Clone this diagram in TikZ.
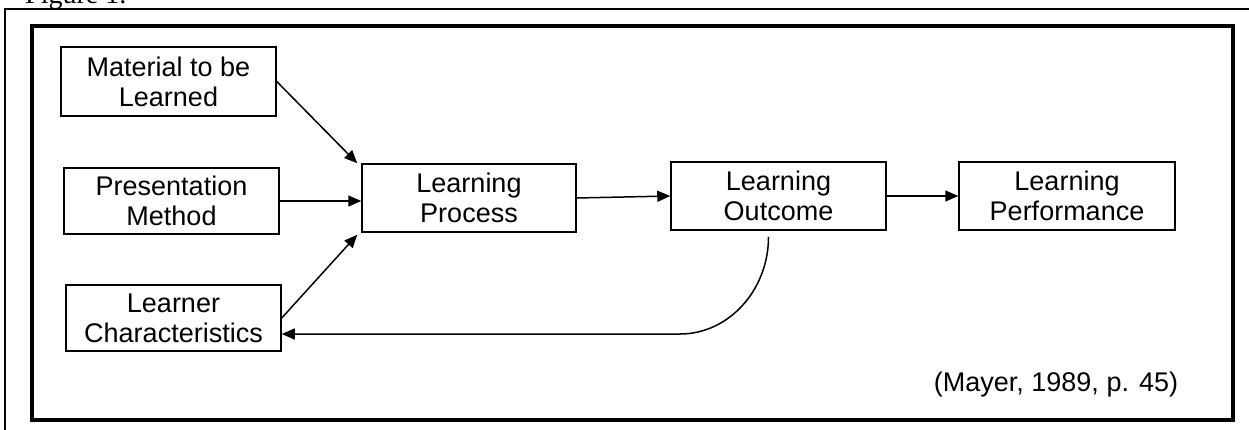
\documentclass[tikz,border=0pt]{standalone}
\usepackage{fontspec}
\setmainfont{Liberation Sans}
\newfontfamily\figserif{Liberation Serif}
\usetikzlibrary{arrows.meta,calc}
\tikzset{
  blk/.style={draw=black, line width=1.5pt, minimum width=215pt, minimum height=67pt,
    align=center, inner sep=0pt, font=\fontsize{27}{30}\selectfont},
  arr/.style={line width=1.5pt, -{Triangle[length=13pt,width=11pt]}},
}
\begin{document}
\begin{tikzpicture}[x=1pt,y=-1pt]
\useasboundingbox (0,0) rectangle (1249,429);
% caption (cut off at top)
\node[anchor=base west, inner sep=0pt, font=\figserif\fontsize{28}{30}\selectfont] (fig) at (25,3) {Figure 1.};
% outer thin frame
\coordinate (o1) at (5,440);
\coordinate (o2) at (5,9);
\coordinate (o3) at (1260,9);
\draw[line width=1.6pt] (o1) -- (o2) -- (o3);
% inner thick frame
\coordinate (f1) at (32,26);
\coordinate (f2) at (1233,420);
\draw[line width=4pt] (f1) rectangle (f2);
% boxes
\node[blk, minimum height=69pt] (mat) at (168.5,81.5) {Material to be\\Learned};
\node[blk, minimum height=66pt] (pres) at (171.5,201) {Presentation\\Method};
\node[blk, minimum height=66pt] (lrn) at (173.5,318) {Learner\\Characteristics};
\node[blk, minimum width=214pt, minimum height=68pt] (proc) at (469,198) {Learning\\Process};
\node[blk, minimum height=68pt] (out) at (778.5,196) {Learning\\Outcome};
\node[blk, minimum width=216pt, minimum height=68pt] (perf) at (1067,196) {Learning\\Performance};
% citation
\node[anchor=base, inner sep=0pt, font=\fontsize{27}{30}\selectfont] (cite) at (1056,391) {(Mayer, 1989, p. 45)};
% connectors
\draw[arr] ([yshift=0pt]mat.east) -- ([xshift=-4pt,yshift=0pt]proc.north west);
\draw[arr] (pres.east) -- (pres.east -| proc.west);
\draw[arr] (lrn.east) -- ([xshift=-4pt,yshift=-2pt]proc.south west);
\draw[arr] (proc.east) -- (out.west);
\draw[arr] (out.east) -- (perf.west);
\coordinate (fb) at (680,334);
\draw[arr] ([xshift=-10pt,yshift=-6pt]out.south) .. controls +(0,53) and +(49,0) .. (fb) -- (fb -| lrn.east);
\end{tikzpicture}
\end{document}
